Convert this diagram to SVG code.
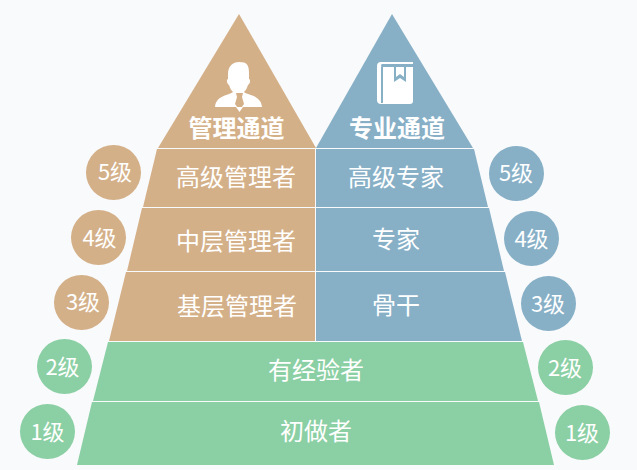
<svg xmlns="http://www.w3.org/2000/svg" width="637" height="470" viewBox="0 0 637 470">
<style>
.tan{fill:#d4b088}.blue{fill:#87b0c7}.green{fill:#8bcfa4}
text{fill:#fff;font-family:"Noto Sans CJK SC","Noto Sans",sans-serif;text-anchor:middle}
.l{font-size:24px}.t{font-size:24px;font-weight:700}.c{font-size:22px}
.w{fill:#fff}
</style>
<rect width="637" height="470" fill="#f9fafc"/>
<g id="manage-top"><polygon class="tan" points="239,14 316,148 158,148"/>
<path class="w" d="M228 74c0-8 5-12 11-12c8 0 10 3 10 11v6c2 1 1 5-1 6c-1 3-2 5-4 7c3 3 17 3 18 15h-47c1-12 15-12 18-15c-2-2-3-4-4-7c-2-1-3-5-1-6z"/>
<polygon class="tan" points="236,93 243,93 242,97 244,104 239.500,110 235,104 237,97"/>
<polygon class="w" points="236,107 243,107 239.500,112"/>
<text class="t" x="236.500" y="137">管理通道</text></g>
<g id="expert-top"><polygon class="blue" points="392,14 473,148 316,148"/>
<path class="w" d="M381 62h32v2h-31q-1 0-1 1.500t1 1.500h31v34q0 3-3 3h-29q-4 0-4-4v-34q0-4 4-4z"/>
<rect class="blue" x="381" y="67" width="2" height="36"/>
<polygon class="blue" points="394,67 406,67 406,82 400,78 394,82"/>
<polygon class="w" points="396,67 404,67 404,77 400,74 396,77"/>
<text class="t" x="397" y="137">专业通道</text></g>
<g id="senior-manager"><polygon class="tan" points="157,149 315,149 315,207 143,207"/><text class="l" x="236" y="186">高级管理者</text></g>
<g id="senior-expert"><polygon class="blue" points="316,149 474,149 488,207 316,207"/><text class="l" x="396" y="186">高级专家</text></g>
<g id="middle-manager"><polygon class="tan" points="142,208 315,208 315,271 127,271"/><text class="l" x="236" y="250">中层管理者</text></g>
<g id="expert"><polygon class="blue" points="316,208 489,208 504,271 316,271"/><text class="l" x="396" y="248">专家</text></g>
<g id="junior-manager"><polygon class="tan" points="126,272 315,272 315,341 109,341"/><text class="l" x="237" y="315">基层管理者</text></g>
<g id="backbone"><polygon class="blue" points="316,272 505,272 522,341 316,341"/><text class="l" x="396" y="314">骨干</text></g>
<g id="experienced"><polygon class="green" points="108,342 523,342 538,401 93,401"/><text class="l" x="316" y="379">有经验者</text></g>
<g id="beginner"><polygon class="green" points="92,402 539,402 554,465 77,465"/><text class="l" x="316" y="440">初做者</text></g>
<g id="left-5"><circle class="tan" cx="113.500" cy="172.500" r="27.500"/><text class="c" x="115" y="180">5级</text></g>
<g id="left-4"><circle class="tan" cx="98.500" cy="237.500" r="27.500"/><text class="c" x="99.500" y="246">4级</text></g>
<g id="left-3"><circle class="tan" cx="81.500" cy="302.500" r="27.500"/><text class="c" x="83" y="310">3级</text></g>
<g id="left-2"><circle class="green" cx="64.500" cy="366.500" r="27.500"/><text class="c" x="62.500" y="375">2级</text></g>
<g id="left-1"><circle class="green" cx="47.500" cy="431.500" r="27.500"/><text class="c" x="47.500" y="440">1级</text></g>
<g id="right-5"><circle class="blue" cx="516.500" cy="173.500" r="27.500"/><text class="c" x="516" y="181">5级</text></g>
<g id="right-4"><circle class="blue" cx="531.500" cy="238.500" r="27.500"/><text class="c" x="531.500" y="247">4级</text></g>
<g id="right-3"><circle class="blue" cx="548.500" cy="303.500" r="27.500"/><text class="c" x="548" y="312">3级</text></g>
<g id="right-2"><circle class="green" cx="565.500" cy="367.500" r="27.500"/><text class="c" x="565" y="376">2级</text></g>
<g id="right-1"><circle class="green" cx="582.500" cy="432.500" r="27.500"/><text class="c" x="582" y="441">1级</text></g>
</svg>
